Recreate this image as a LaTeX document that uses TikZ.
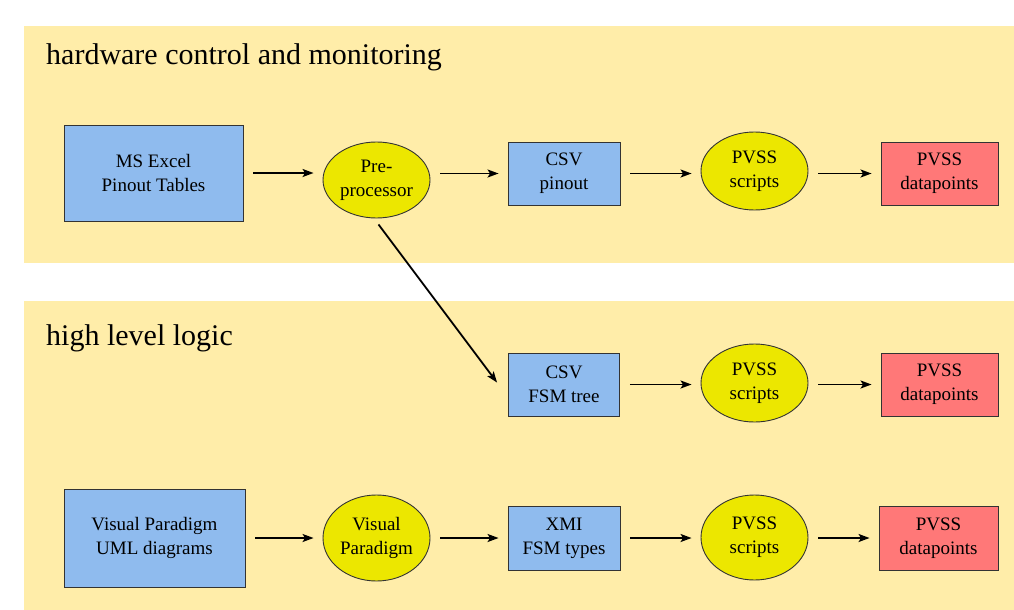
\documentclass[tikz,border=0pt]{standalone}
\usepackage{fontspec}
\setmainfont{Liberation Serif}
\newfontfamily\timesx{Liberation Serif}
\usetikzlibrary{arrows.meta,shapes.geometric}
\definecolor{panel}{HTML}{FFEDA9}
\definecolor{boxblue}{HTML}{8FBBEE}
\definecolor{boxyellow}{HTML}{ECE700}
\definecolor{boxred}{HTML}{FF7878}
\definecolor{edge}{HTML}{333333}
\tikzset{
  x=1pt, y=-1pt,
  panelbox/.style={fill=panel, draw=none},
  paneltitle/.style={anchor=base west, inner sep=0pt, font=\timesx\fontsize{30}{34}\selectfont},
  datbox/.style={rectangle, draw=edge, line width=0.9pt, fill=boxblue, align=center, inner sep=0pt,
    font=\timesx\fontsize{19}{24}\selectfont},
  outbox/.style={datbox, fill=boxred},
  proc/.style={ellipse, draw=edge, line width=0.9pt, fill=boxyellow, align=center, inner sep=0pt,
    minimum width=107pt, font=\timesx\fontsize{19}{24}\selectfont},
  flow/.style={-{Stealth[length=11pt,width=8pt,inset=2.5pt]}, line width=1.8pt, black, shorten <=10pt, shorten >=9pt}
}
\begin{document}
\begin{tikzpicture}
\useasboundingbox (0,0) rectangle (1014,610);
\fill[white] (0,0) rectangle (1014,610);
% panels
\fill[panelbox] (24,26) rectangle (1014,263);
\fill[panelbox] (24,301) rectangle (1014,610);
\node[paneltitle] (t1) at (46,65) {hardware control and monitoring};
\node[paneltitle] (t2) at (46,345) {high level logic};

% top row
\node[datbox, minimum width=179pt, minimum height=96pt] (excel) at (153.5,173) {MS Excel\\Pinout Tables};
\node[proc, minimum height=76pt] (pre) at (376.5,180) {Pre-\\processor};
\node[datbox, minimum width=112pt, minimum height=63pt] (csvp) at (564,173.5) {CSV\\pinout};
\node[proc, minimum height=78pt] (s1) at (754.5,171) {PVSS\\scripts};
\node[outbox, minimum width=117pt, minimum height=63pt] (d1) at (939.5,173.5) {PVSS\\datapoints};

% middle row
\node[datbox, minimum width=111pt, minimum height=63pt] (csvf) at (564,384.5) {CSV\\FSM tree};
\node[proc, minimum height=78pt] (s2) at (754.5,383) {PVSS\\scripts};
\node[outbox, minimum width=117pt, minimum height=63pt] (d2) at (939.5,384.5) {PVSS\\datapoints};

% bottom row
\node[datbox, minimum width=181pt, minimum height=98pt] (vpu) at (154.5,538) {Visual Paradigm\\UML diagrams};
\node[proc, minimum height=86pt] (vp) at (376.5,538) {Visual\\Paradigm};
\node[datbox, minimum width=112pt, minimum height=64pt] (xmi) at (564,538) {XMI\\FSM types};
\node[proc, minimum height=85pt] (s3) at (754.5,537.5) {PVSS\\scripts};
\node[outbox, minimum width=119pt, minimum height=64pt] (d3) at (938.5,538) {PVSS\\datapoints};

% connectors
\draw[flow] (excel.east) -- (excel.east -| pre.west);
\draw[flow] (pre.east |- csvp.west) -- (csvp.west);
\draw[flow] (csvp.east) -- (csvp.east -| s1.west);
\draw[flow] (s1.east |- d1.west) -- (d1.west);
\draw[-{Stealth[length=11pt,width=8pt,inset=2.5pt]}, line width=1.8pt] ([xshift=2pt,yshift=-6pt]pre.south) -- ([xshift=-11pt,yshift=-30pt]csvf.north west);
\draw[flow] (csvf.east) -- (csvf.east -| s2.west);
\draw[flow] (s2.east |- d2.west) -- (d2.west);
\draw[flow] (vpu.east) -- (vpu.east -| vp.west);
\draw[flow] (vp.east) -- (vp.east -| xmi.west);
\draw[flow] (xmi.east) -- (xmi.east -| s3.west);
\draw[flow] (s3.east |- d3.west) -- (d3.west);
\end{tikzpicture}
\end{document}
